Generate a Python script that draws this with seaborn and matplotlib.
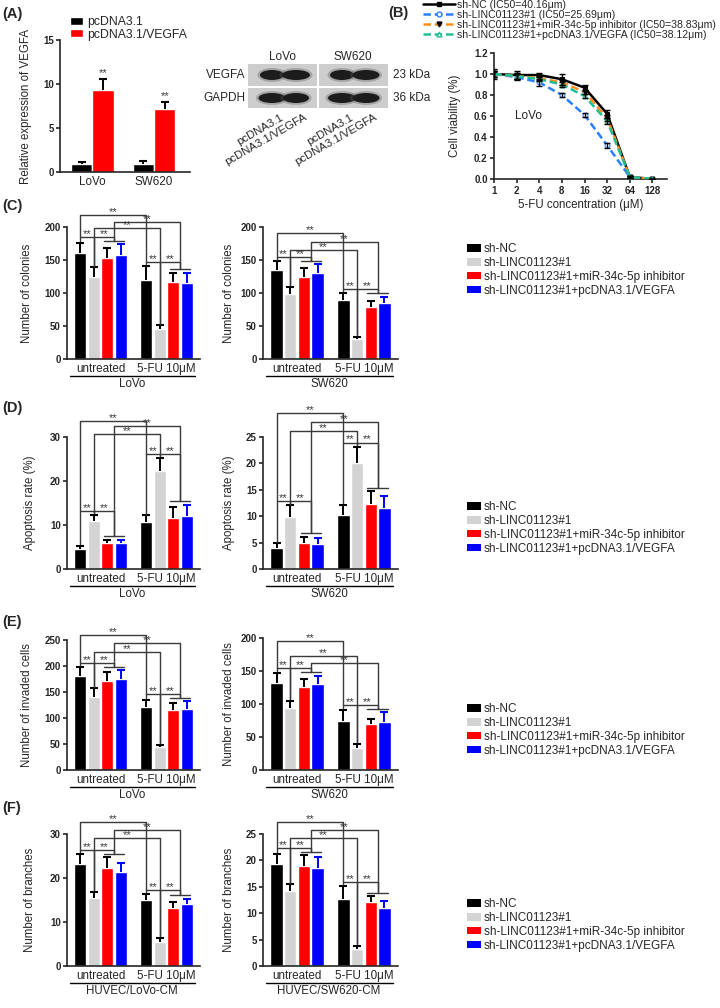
import matplotlib
matplotlib.use("Agg")
import matplotlib.pyplot as plt
from matplotlib.patches import Patch, Rectangle, Ellipse
from matplotlib.lines import Line2D
from matplotlib.ticker import NullLocator
import seaborn as sns
import pandas as pd

# (A) relative VEGFA expression
a_lines = ["LoVo", "SW620"]
a_groups = ["pcDNA3.1", "pcDNA3.1/VEGFA"]
a_ctrl = [0.9, 0.9]
a_ctrl_err = [0.2, 0.3]
a_vegfa = [9.3, 7.2]
a_vegfa_err = [1.3, 0.7]

# (B) cell viability vs 5-FU
b_conc = [1, 2, 4, 8, 16, 32, 64, 128]
b_labels = ["sh-NC (IC50=40.16μm)",
            "sh-LINC01123#1 (IC50=25.69μm)",
            "sh-LINC01123#1+miR-34c-5p inhibitor (IC50=38.83μm)",
            "sh-LINC01123#1+pcDNA3.1/VEGFA (IC50=38.12μm)"]
b_nc = [1.00, 0.99, 0.99, 0.95, 0.87, 0.62, 0.02, 0.00]
b_sh = [1.00, 0.97, 0.92, 0.80, 0.61, 0.32, 0.02, 0.00]
b_inh = [1.00, 0.98, 0.96, 0.92, 0.83, 0.58, 0.02, 0.00]
b_veg = [1.00, 0.98, 0.95, 0.90, 0.79, 0.55, 0.02, 0.00]
b_nc_err = [0.05, 0.04, 0.02, 0.05, 0.03, 0.04, 0.01, 0.0]
b_sh_err = [0.03, 0.03, 0.03, 0.02, 0.02, 0.02, 0.01, 0.0]
b_inh_err = [0.03, 0.03, 0.02, 0.02, 0.02, 0.03, 0.01, 0.0]
b_veg_err = [0.03, 0.03, 0.02, 0.02, 0.02, 0.03, 0.01, 0.0]

# (C)-(F) bar panels
conds = ["sh-NC", "sh-LINC01123#1",
         "sh-LINC01123#1+miR-34c-5p inhibitor",
         "sh-LINC01123#1+pcDNA3.1/VEGFA"]
treat = ["untreated", "5-FU 10μM"]

c_lovo = [[160, 125, 153, 158], [120, 46, 117, 115]]
c_lovo_err = [[16, 14, 15, 16], [21, 5, 13, 16]]
c_sw = [[135, 98.5, 125, 130], [89, 30, 79, 84.5]]
c_sw_err = [[13, 11, 13, 14], [11, 4, 9, 10]]

d_lovo = [[4.6, 11.0, 5.9, 5.8], [10.7, 22.3, 11.7, 12.0]]
d_lovo_err = [[0.7, 1.3, 0.8, 0.7], [1.5, 3.0, 2.5, 2.6]]
d_sw = [[4.0, 9.9, 5.0, 4.8], [10.3, 20.0, 12.3, 11.5]]
d_sw_err = [[0.9, 2.2, 1.1, 1.1], [1.9, 3.2, 2.5, 2.4]]

e_lovo = [[180, 140, 172, 175], [122, 44, 116, 118]]
e_lovo_err = [[18, 17, 16, 17], [13, 5, 13, 14]]
e_sw = [[132, 94, 126, 130], [75, 33, 69, 73]]
e_sw_err = [[15, 11, 12, 13], [16, 7, 8, 15]]

f_lovo = [[23.2, 15.4, 22.2, 21.4], [14.9, 5.5, 13.2, 14.0]]
f_lovo_err = [[2.3, 1.5, 2.6, 2.1], [1.5, 0.9, 1.4, 1.3]]
f_sw = [[19.3, 14.2, 19.0, 18.6], [12.7, 3.3, 12.1, 11.0]]
f_sw_err = [[2.0, 1.3, 2.0, 2.0], [2.5, 0.5, 1.1, 1.3]]

bar_colors = ["#000000", "#d3d3d3", "#ff0000", "#0000ff"]
err_colors = ["#000000", "#000000", "#000000", "#0000ff"]
line_col = "#3a3a3a"

sns.set_theme(style="ticks")
plt.rcParams["font.family"] = ["Liberation Sans", "DejaVu Sans"]
plt.rcParams["axes.linewidth"] = 1.2
plt.rcParams["xtick.major.width"] = 1.2
plt.rcParams["ytick.major.width"] = 1.2
plt.rcParams["xtick.major.size"] = 3
plt.rcParams["ytick.major.size"] = 3

W, H = 720, 1008
fig = plt.figure(figsize=(7.2, 10.08), dpi=100)


def box(x0, y0, x1, y1):
    return [x0 / W, 1 - y1 / H, (x1 - x0) / W, (y1 - y0) / H]


def bold_ticks(ax, size=7):
    ax.tick_params(axis="y", labelsize=size, pad=1.5)
    for t in ax.get_yticklabels():
        t.set_fontweight("bold")


def star(ax, x, y, size=8):
    ax.text(x, y, "**", ha="center", va="baseline", fontsize=size, color=line_col)


def up_err(ax, x, y, e, color):
    # one-sided (upper) error bar with a top cap only
    ax.plot([x, x], [y, y + e], color=color, lw=1.4, zorder=3,
            solid_capstyle="butt")
    ax.plot([x], [y + e], marker="_", ms=5.5, mew=1.5, color=color, zorder=3)


def bar_panel(rect, mean, err, ymax, yticks, ylabel, cell, levels, lab_x):
    ax = fig.add_axes(box(*rect))
    df = pd.DataFrame({
        "treat": [t for t in treat for _ in conds],
        "cond": conds * len(treat),
        "value": [v for row in mean for v in row],
    })
    sns.barplot(data=df, x="treat", y="value", hue="cond", order=treat,
                hue_order=conds, palette=bar_colors, width=0.82, gap=0.1,
                saturation=1, errorbar=None, legend=False, ax=ax)
    xs = [[0] * 4 for _ in treat]
    for h, cont in enumerate(ax.containers):
        for g, bar in enumerate(cont):
            xs[g][h] = bar.get_x() + bar.get_width() / 2
    tops = [[m + e for m, e in zip(mr, er)] for mr, er in zip(mean, err)]
    for g in range(2):
        for h in range(4):
            up_err(ax, xs[g][h], mean[g][h], err[g][h], err_colors[h])

    # significance brackets
    lk = dict(color=line_col, lw=1.0, clip_on=False, zorder=4)
    pad = 0.012 * ymax
    S = [max(tops[g][2], tops[g][3]) + 0.025 * ymax for g in range(2)]
    G = [max(tops[g][0], tops[g][1], S[g]) + 0.03 * ymax for g in range(2)]
    mid = [(xs[g][2] + xs[g][3]) / 2 for g in range(2)]
    for g in range(2):
        ax.plot([xs[g][2] - 0.05, xs[g][3] + 0.05], [S[g], S[g]], **lk)
        ax.plot([xs[g][0], xs[g][0], mid[g], mid[g]],
                [tops[g][0] + pad, G[g], G[g], S[g]], **lk)
        ax.plot([xs[g][1], xs[g][1]], [tops[g][1] + pad, G[g]], **lk)
        star(ax, (xs[g][0] + xs[g][1]) / 2, G[g])
        star(ax, (xs[g][1] + mid[g]) / 2, G[g])
    lb, lg, lr = [v * ymax for v in levels]
    ax.plot([xs[0][0], xs[0][0], xs[1][0], xs[1][0]], [G[0], lb, lb, G[1]], **lk)
    star(ax, (xs[0][0] + xs[1][0]) / 2, lb)
    ax.plot([xs[0][1], xs[0][1], xs[1][1], xs[1][1]],
            [tops[0][1] + pad, lg, lg, tops[1][1] + pad], **lk)
    star(ax, (xs[0][1] + xs[1][1]) / 2, lg)
    ax.plot([mid[0], mid[0], mid[1], mid[1]], [S[0], lr, lr, S[1]], **lk)
    star(ax, (mid[0] + mid[1]) / 2, lr)

    ax.set_xlim(-0.51, 1.51)
    ax.set_ylim(0, ymax)
    ax.set_yticks(yticks)
    ax.set_xlabel("")
    ax.set_ylabel(ylabel, fontsize=8.3)
    ax.yaxis.set_label_coords(lab_x, 0.5)
    ax.set_xticks([0, 1])
    ax.set_xticklabels(treat)
    ax.tick_params(axis="x", length=0, pad=3, labelsize=8.4)
    bold_ticks(ax)
    sns.despine(ax=ax)
    ax.plot([0.025, 0.965], [-0.128, -0.128], transform=ax.transAxes,
            color="black", lw=1.0, clip_on=False)
    ax.text(0.49, -0.193, cell, transform=ax.transAxes, ha="center",
            va="center", fontsize=8.3)
    return ax


def bar_legend(yc):
    handles = [Patch(facecolor=c, edgecolor="none") for c in bar_colors]
    fig.legend(handles, conds, loc="center left", bbox_to_anchor=(467 / W, 1 - yc / H),
               frameon=False, fontsize=8.5, handlelength=1.15, handleheight=0.6,
               handletextpad=0.3, labelspacing=0.15, borderpad=0, borderaxespad=0)


# ---------- (A) bar chart
ax = fig.add_axes(box(60, 40, 190, 172))
dfa = pd.DataFrame({
    "line": a_lines * 2,
    "grp": [a_groups[0]] * 2 + [a_groups[1]] * 2,
    "value": a_ctrl + a_vegfa,
})
sns.barplot(data=dfa, x="line", y="value", hue="grp", order=a_lines,
            hue_order=a_groups, palette=["#000000", "#ff0000"], width=0.69,
            saturation=1, errorbar=None, legend=False, ax=ax)
for cont, errs in zip(ax.containers, [a_ctrl_err, a_vegfa_err]):
    for bar, e in zip(cont, errs):
        up_err(ax, bar.get_x() + bar.get_width() / 2, bar.get_height(), e, "#000000")
for bar, e in zip(ax.containers[1], a_vegfa_err):
    star(ax, bar.get_x() + bar.get_width() / 2, bar.get_height() + e + 0.35, 8)
ax.set_xlim(-0.52, 1.58)
ax.set_ylim(0, 15)
ax.set_yticks([0, 5, 10, 15])
ax.set_xlabel("")
ax.set_ylabel("Relative expression of VEGFA", fontsize=8.3)
ax.yaxis.set_label_coords(-0.215, 0.5)
ax.tick_params(axis="x", length=0, pad=3, labelsize=8.4)
bold_ticks(ax)
sns.despine(ax=ax)
fig.legend([Patch(facecolor="#000000"), Patch(facecolor="#ff0000")], a_groups,
           loc="upper left", bbox_to_anchor=(70 / W, 1 - 16 / H), frameon=False,
           fontsize=8.8, handlelength=1.1, handleheight=0.6, handletextpad=0.3,
           labelspacing=0.05, borderpad=0, borderaxespad=0)

# ---------- (B) viability curves
axb = fig.add_axes(box(494, 53, 667, 179))
b_series = [b_nc, b_sh, b_inh, b_veg]
b_errs = [b_nc_err, b_sh_err, b_inh_err, b_veg_err]
b_cols = ["#000000", "#2a7fff", "#ff8c1a", "#1fbf96"]
b_ls = ["-", (0, (3, 1.5)), (0, (3, 1.5)), (0, (3, 1.5))]
b_mk = ["s", "o", "v", "^"]
b_mfc = ["#000000", "white", "#000000", "white"]
for vals, errs, col, ls, mk, mfc in zip(b_series, b_errs, b_cols, b_ls, b_mk, b_mfc):
    sns.lineplot(x=b_conc, y=vals, ax=axb, color=col, linestyle=ls, lw=1.8,
                 marker=mk, markersize=3.5, markerfacecolor=mfc,
                 markeredgecolor="#000000" if mk in "sv" else col, errorbar=None,
                 legend=False, zorder=3)
    axb.errorbar(b_conc, vals, yerr=errs, fmt="none", ecolor="black",
                 elinewidth=1.0, capsize=2, capthick=1.0, zorder=4)
axb.set_xscale("log", base=2)
axb.set_xlim(1, 200)
axb.set_ylim(0, 1.2)
axb.set_xticks(b_conc)
axb.set_xticklabels([str(c) for c in b_conc])
axb.xaxis.set_minor_locator(NullLocator())
axb.set_yticks([0, 0.2, 0.4, 0.6, 0.8, 1.0, 1.2])
axb.set_yticklabels([f"{v:.1f}" for v in [0, 0.2, 0.4, 0.6, 0.8, 1.0, 1.2]])
axb.tick_params(axis="x", labelsize=7, pad=2)
for t in axb.get_xticklabels():
    t.set_fontweight("bold")
bold_ticks(axb)
axb.set_ylabel("Cell viability (%)", fontsize=8.3)
axb.yaxis.set_label_coords(-0.19, 0.5)
axb.set_xlabel("5-FU concentration (μM)", fontsize=8.3, labelpad=2)
axb.text(1.9, 0.6, "LoVo", fontsize=8.5, va="center")
sns.despine(ax=axb)
b_handles = [Line2D([], [], color=c, ls=ls, lw=1.8, marker=mk, ms=3.5, mfc=mfc,
                    mec="#000000" if mk in "sv" else c)
             for c, ls, mk, mfc in zip(b_cols, b_ls, b_mk, b_mfc)]
fig.legend(b_handles, b_labels, loc="upper left", bbox_to_anchor=(423 / W, 1 - 0 / H),
           frameon=False, fontsize=7.6, handlelength=3.0, handletextpad=0.2,
           labelspacing=0.0, borderpad=0, borderaxespad=0)

# ---------- (C)-(F)
bar_panel((67, 227, 200, 359), c_lovo, c_lovo_err, 200, [0, 50, 100, 150, 200],
          "Number of colonies", "LoVo", (1.09, 0.99, 1.035), -0.255)
bar_panel((263, 227, 398, 359), c_sw, c_sw_err, 200, [0, 50, 100, 150, 200],
          "Number of colonies", "SW620", (0.955, 0.826, 0.886), -0.205)
bar_legend(270)

bar_panel((67, 437, 200, 569), d_lovo, d_lovo_err, 30, [0, 10, 20, 30],
          "Apoptosis rate (%)", "LoVo", (1.12, 1.02, 1.086), -0.23)
bar_panel((263, 437, 398, 569), d_sw, d_sw_err, 25, [0, 5, 10, 15, 20, 25],
          "Apoptosis rate (%)", "SW620", (1.18, 1.045, 1.11), -0.205)
bar_legend(528)

bar_panel((67, 640, 200, 770), e_lovo, e_lovo_err, 250, [0, 50, 100, 150, 200, 250],
          "Number of invaded cells", "LoVo", (1.04, 0.91, 0.975), -0.255)
bar_panel((263, 638, 398, 770), e_sw, e_sw_err, 200, [0, 50, 100, 150, 200],
          "Number of invaded cells", "SW620", (0.977, 0.866, 0.813), -0.205)
bar_legend(730)

bar_panel((67, 834, 200, 966), f_lovo, f_lovo_err, 30, [0, 10, 20, 30],
          "Number of branches", "HUVEC/LoVo-CM", (1.09, 0.97, 1.03), -0.23)
bar_panel((263, 834, 398, 966), f_sw, f_sw_err, 25, [0, 5, 10, 15, 20, 25],
          "Number of branches", "HUVEC/SW620-CM", (1.09, 0.97, 1.03), -0.205)
bar_legend(925)

# ---------- overlay: panel letters and western blot
ov = fig.add_axes([0, 0, 1, 1])
ov.set_xlim(0, W)
ov.set_ylim(H, 0)
ov.axis("off")
for lab, x, y in [("(A)", 2, 14), ("(B)", 388, 13), ("(C)", 2, 206),
                  ("(D)", 2, 408), ("(E)", 2, 622), ("(F)", 2, 808)]:
    ov.text(x, y, lab, fontsize=10.5, fontweight="bold", va="center", ha="left")

for x0, x1 in [(248, 317), (319, 388)]:
    for y0, y1 in [(64, 86), (88, 108)]:
        ov.add_patch(Rectangle((x0, y0), x1 - x0, y1 - y0, facecolor="#cdcdcd",
                               edgecolor="none"))
lanes = [272, 296, 342, 366]
band_w = [[24, 28, 24, 27], [27, 26, 28, 27]]
for r, yc in enumerate([75, 98]):
    for lx, bw in zip(lanes, band_w[r]):
        ov.add_patch(Ellipse((lx, yc), bw + 5, 14, facecolor="#5a5a5a", alpha=0.35,
                             edgecolor="none"))
        ov.add_patch(Ellipse((lx, yc), bw, 10, facecolor="#1c1c1c", edgecolor="none"))
ov.text(245, 75, "VEGFA", ha="right", va="center", fontsize=8.5)
ov.text(245, 98, "GAPDH", ha="right", va="center", fontsize=8.5)
ov.text(393, 75, "23 kDa", ha="left", va="center", fontsize=8.5)
ov.text(393, 98, "36 kDa", ha="left", va="center", fontsize=8.5)
ov.text(283, 57, "LoVo", ha="center", va="center", fontsize=8.5)
ov.text(353, 57, "SW620", ha="center", va="center", fontsize=8.5)
for lx, lab in zip(lanes, a_groups * 2):
    ov.text(lx + 8, 112, lab, rotation=30, rotation_mode="anchor", ha="right",
            va="top", fontsize=8.2)

fig.savefig("out.png", dpi=100)
